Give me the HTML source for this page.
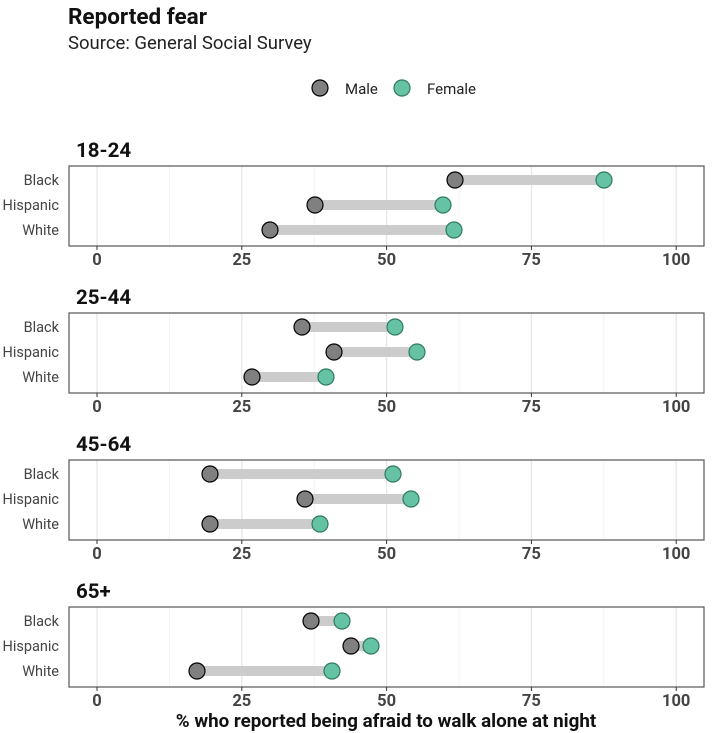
<!DOCTYPE html>
<html><head><style>body{margin:0;background:#fff}svg{display:block;font-family:"Roboto","Liberation Sans",sans-serif}
.gM{stroke:#e6e6e6;stroke-width:1.3}.gm{stroke:#f3f3f3;stroke-width:1}
.seg{stroke:#cccccc;stroke-width:10}.m{fill:#808080;stroke:#000;stroke-width:1.2}.f{fill:#66c2a5;stroke:#2e7a5f;stroke-width:1.2}
.ylab{font-size:14.5px;fill:#444;text-anchor:end}.tick{font-size:16.5px;font-weight:bold;fill:#444;text-anchor:middle}
.pt{font-size:20.5px;font-weight:bold;fill:#111}.tk{stroke:#333}</style></head><body>
<svg width="714" height="733" viewBox="0 0 714 733" xmlns="http://www.w3.org/2000/svg">
<text x="68" y="24" font-size="22.5" font-weight="bold" fill="#111">Reported fear</text>
<text x="68" y="49" font-size="18.5" fill="#222">Source: General Social Survey</text>
<circle cx="320" cy="88" r="8" class="m"/>
<text x="345" y="94" font-size="15" fill="#222">Male</text>
<circle cx="402" cy="88" r="8" class="f"/>
<text x="427" y="94" font-size="15" fill="#222">Female</text>

<g transform="translate(0,166)">
<text x="76" y="-9" class="pt">18-24</text>
<line x1="97" x2="97" y1="0" y2="80" class="gM"/><line x1="169.4" x2="169.4" y1="0" y2="80" class="gm"/><line x1="241.8" x2="241.8" y1="0" y2="80" class="gM"/><line x1="314.2" x2="314.2" y1="0" y2="80" class="gm"/><line x1="386.6" x2="386.6" y1="0" y2="80" class="gM"/><line x1="459" x2="459" y1="0" y2="80" class="gm"/><line x1="531.4" x2="531.4" y1="0" y2="80" class="gM"/><line x1="603.8" x2="603.8" y1="0" y2="80" class="gm"/><line x1="676.2" x2="676.2" y1="0" y2="80" class="gM"/>
<rect x="69" y="0" width="635" height="80" fill="none" stroke="#555" stroke-width="1.2"/>
<text x="59" y="19" class="ylab">Black</text><text x="59" y="44" class="ylab">Hispanic</text><text x="59" y="69" class="ylab">White</text>
<line x1="455" x2="604" y1="14" y2="14" class="seg"/><circle cx="455" cy="14" r="8" class="m"/><circle cx="604" cy="14" r="8" class="f"/>
<line x1="315" x2="443" y1="39" y2="39" class="seg"/><circle cx="315" cy="39" r="8" class="m"/><circle cx="443" cy="39" r="8" class="f"/>
<line x1="270" x2="454" y1="64" y2="64" class="seg"/><circle cx="270" cy="64" r="8" class="m"/><circle cx="454" cy="64" r="8" class="f"/>
<line x1="97" x2="97" y1="80" y2="84" class="tk"/><line x1="241.8" x2="241.8" y1="80" y2="84" class="tk"/><line x1="386.6" x2="386.6" y1="80" y2="84" class="tk"/><line x1="531.4" x2="531.4" y1="80" y2="84" class="tk"/><line x1="676.2" x2="676.2" y1="80" y2="84" class="tk"/>
<text x="97" y="99" class="tick">0</text><text x="241.8" y="99" class="tick">25</text><text x="386.6" y="99" class="tick">50</text><text x="531.4" y="99" class="tick">75</text><text x="676.2" y="99" class="tick">100</text>
</g>

<g transform="translate(0,313)">
<text x="76" y="-9" class="pt">25-44</text>
<line x1="97" x2="97" y1="0" y2="80" class="gM"/><line x1="169.4" x2="169.4" y1="0" y2="80" class="gm"/><line x1="241.8" x2="241.8" y1="0" y2="80" class="gM"/><line x1="314.2" x2="314.2" y1="0" y2="80" class="gm"/><line x1="386.6" x2="386.6" y1="0" y2="80" class="gM"/><line x1="459" x2="459" y1="0" y2="80" class="gm"/><line x1="531.4" x2="531.4" y1="0" y2="80" class="gM"/><line x1="603.8" x2="603.8" y1="0" y2="80" class="gm"/><line x1="676.2" x2="676.2" y1="0" y2="80" class="gM"/>
<rect x="69" y="0" width="635" height="80" fill="none" stroke="#555" stroke-width="1.2"/>
<text x="59" y="19" class="ylab">Black</text><text x="59" y="44" class="ylab">Hispanic</text><text x="59" y="69" class="ylab">White</text>
<line x1="302" x2="395" y1="14" y2="14" class="seg"/><circle cx="302" cy="14" r="8" class="m"/><circle cx="395" cy="14" r="8" class="f"/>
<line x1="334" x2="417" y1="39" y2="39" class="seg"/><circle cx="334" cy="39" r="8" class="m"/><circle cx="417" cy="39" r="8" class="f"/>
<line x1="252" x2="326" y1="64" y2="64" class="seg"/><circle cx="252" cy="64" r="8" class="m"/><circle cx="326" cy="64" r="8" class="f"/>
<line x1="97" x2="97" y1="80" y2="84" class="tk"/><line x1="241.8" x2="241.8" y1="80" y2="84" class="tk"/><line x1="386.6" x2="386.6" y1="80" y2="84" class="tk"/><line x1="531.4" x2="531.4" y1="80" y2="84" class="tk"/><line x1="676.2" x2="676.2" y1="80" y2="84" class="tk"/>
<text x="97" y="99" class="tick">0</text><text x="241.8" y="99" class="tick">25</text><text x="386.6" y="99" class="tick">50</text><text x="531.4" y="99" class="tick">75</text><text x="676.2" y="99" class="tick">100</text>
</g>

<g transform="translate(0,460)">
<text x="76" y="-9" class="pt">45-64</text>
<line x1="97" x2="97" y1="0" y2="80" class="gM"/><line x1="169.4" x2="169.4" y1="0" y2="80" class="gm"/><line x1="241.8" x2="241.8" y1="0" y2="80" class="gM"/><line x1="314.2" x2="314.2" y1="0" y2="80" class="gm"/><line x1="386.6" x2="386.6" y1="0" y2="80" class="gM"/><line x1="459" x2="459" y1="0" y2="80" class="gm"/><line x1="531.4" x2="531.4" y1="0" y2="80" class="gM"/><line x1="603.8" x2="603.8" y1="0" y2="80" class="gm"/><line x1="676.2" x2="676.2" y1="0" y2="80" class="gM"/>
<rect x="69" y="0" width="635" height="80" fill="none" stroke="#555" stroke-width="1.2"/>
<text x="59" y="19" class="ylab">Black</text><text x="59" y="44" class="ylab">Hispanic</text><text x="59" y="69" class="ylab">White</text>
<line x1="210" x2="393" y1="14" y2="14" class="seg"/><circle cx="210" cy="14" r="8" class="m"/><circle cx="393" cy="14" r="8" class="f"/>
<line x1="305" x2="411" y1="39" y2="39" class="seg"/><circle cx="305" cy="39" r="8" class="m"/><circle cx="411" cy="39" r="8" class="f"/>
<line x1="210" x2="320" y1="64" y2="64" class="seg"/><circle cx="210" cy="64" r="8" class="m"/><circle cx="320" cy="64" r="8" class="f"/>
<line x1="97" x2="97" y1="80" y2="84" class="tk"/><line x1="241.8" x2="241.8" y1="80" y2="84" class="tk"/><line x1="386.6" x2="386.6" y1="80" y2="84" class="tk"/><line x1="531.4" x2="531.4" y1="80" y2="84" class="tk"/><line x1="676.2" x2="676.2" y1="80" y2="84" class="tk"/>
<text x="97" y="99" class="tick">0</text><text x="241.8" y="99" class="tick">25</text><text x="386.6" y="99" class="tick">50</text><text x="531.4" y="99" class="tick">75</text><text x="676.2" y="99" class="tick">100</text>
</g>

<g transform="translate(0,607)">
<text x="76" y="-9" class="pt">65+</text>
<line x1="97" x2="97" y1="0" y2="80" class="gM"/><line x1="169.4" x2="169.4" y1="0" y2="80" class="gm"/><line x1="241.8" x2="241.8" y1="0" y2="80" class="gM"/><line x1="314.2" x2="314.2" y1="0" y2="80" class="gm"/><line x1="386.6" x2="386.6" y1="0" y2="80" class="gM"/><line x1="459" x2="459" y1="0" y2="80" class="gm"/><line x1="531.4" x2="531.4" y1="0" y2="80" class="gM"/><line x1="603.8" x2="603.8" y1="0" y2="80" class="gm"/><line x1="676.2" x2="676.2" y1="0" y2="80" class="gM"/>
<rect x="69" y="0" width="635" height="80" fill="none" stroke="#555" stroke-width="1.2"/>
<text x="59" y="19" class="ylab">Black</text><text x="59" y="44" class="ylab">Hispanic</text><text x="59" y="69" class="ylab">White</text>
<line x1="311" x2="342" y1="14" y2="14" class="seg"/><circle cx="311" cy="14" r="8" class="m"/><circle cx="342" cy="14" r="8" class="f"/>
<line x1="351" x2="371" y1="39" y2="39" class="seg"/><circle cx="351" cy="39" r="8" class="m"/><circle cx="371" cy="39" r="8" class="f"/>
<line x1="197" x2="332" y1="64" y2="64" class="seg"/><circle cx="197" cy="64" r="8" class="m"/><circle cx="332" cy="64" r="8" class="f"/>
<line x1="97" x2="97" y1="80" y2="84" class="tk"/><line x1="241.8" x2="241.8" y1="80" y2="84" class="tk"/><line x1="386.6" x2="386.6" y1="80" y2="84" class="tk"/><line x1="531.4" x2="531.4" y1="80" y2="84" class="tk"/><line x1="676.2" x2="676.2" y1="80" y2="84" class="tk"/>
<text x="97" y="99" class="tick">0</text><text x="241.8" y="99" class="tick">25</text><text x="386.6" y="99" class="tick">50</text><text x="531.4" y="99" class="tick">75</text><text x="676.2" y="99" class="tick">100</text>
</g>

<text x="386" y="727" font-size="18.8" font-weight="bold" fill="#111" text-anchor="middle">% who reported being afraid to walk alone at night</text>
</svg>
</body></html>
